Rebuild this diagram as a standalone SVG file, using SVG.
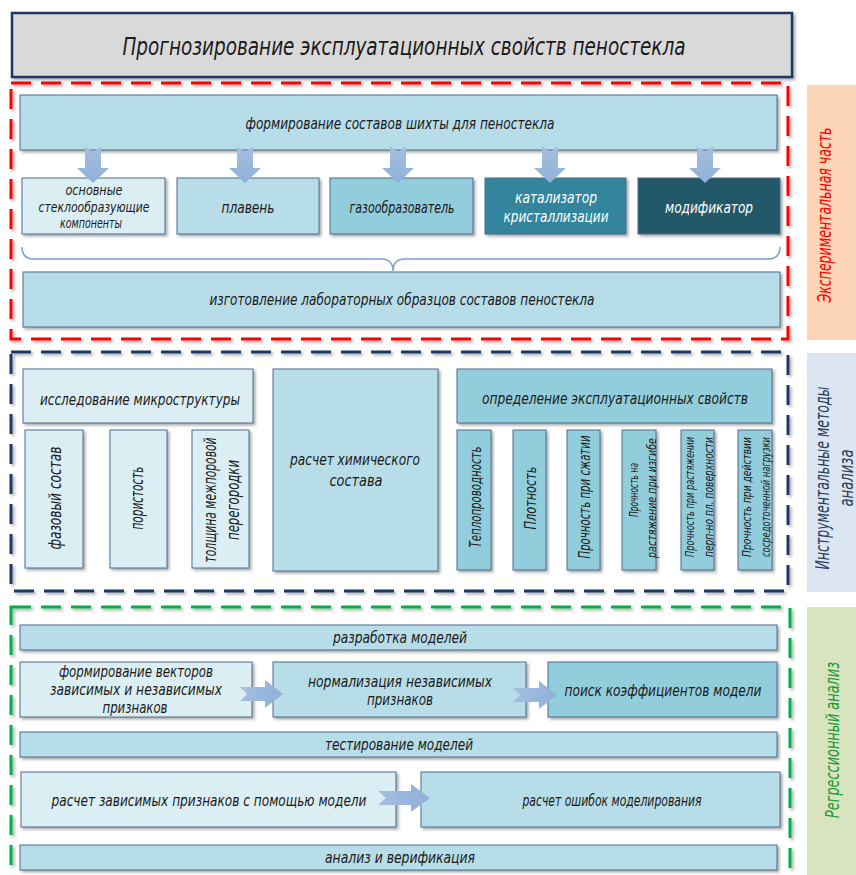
<svg xmlns="http://www.w3.org/2000/svg" width="856" height="875" viewBox="0 0 856 875">
<defs>
<filter id="sh" x="-5%" y="-5%" width="115%" height="130%">
<feDropShadow dx="2" dy="2" stdDeviation="1.5" flood-color="#404040" flood-opacity="0.45"/>
</filter>
<linearGradient id="arr" x1="0" y1="0" x2="0" y2="1">
<stop offset="0" stop-color="#a5bfdf"/><stop offset="1" stop-color="#8fb0d8"/>
</linearGradient>
<linearGradient id="arrh" x1="0" y1="0" x2="1" y2="0">
<stop offset="0" stop-color="#a5bfdf"/><stop offset="1" stop-color="#8fb0d8"/>
</linearGradient>
</defs>
<style>
text{font-family:"Liberation Sans Narrow","DejaVu Sans Condensed","Liberation Sans",Arial,sans-serif;font-style:italic;fill:#1a1a1a;text-anchor:middle}
.b{stroke:#4f6d8f;stroke-width:1;filter:url(#sh)}
.c1{fill:#dbeef4}.c2{fill:#b7dde8}.c3{fill:#92cddc}.c4{fill:#31859c}.c5{fill:#215968}
.w{fill:#ffffff}
.t14{font-size:16px}.t13{font-size:13.5px}.t15{font-size:17px}.t11{font-size:12px}.t12{font-size:13px}
.fr{fill:none;stroke-width:3;stroke-dasharray:20 10;filter:url(#sh)}
.ar{fill:url(#arr)}.arh{fill:url(#arrh)}
</style>

<g id="title">
<rect x="12" y="13" width="780" height="64" fill="#d9d9d9" stroke="#1f3864" stroke-width="2.5" filter="url(#sh)"/>
<text x="404" y="55" font-size="25" textLength="563" lengthAdjust="spacingAndGlyphs">Прогнозирование эксплуатационных свойств пеностекла</text>
</g>

<g id="frames">
<rect class="fr" x="11" y="83" width="777" height="256" stroke="#ff0000"/>
<rect class="fr" x="11" y="352" width="777" height="239" stroke="#1f3864"/>
<rect class="fr" x="11" y="607" width="779" height="280" stroke="#00b050"/>
</g>

<g id="side-exp">
<rect x="807" y="85" width="49" height="255" fill="#fbd5b5"/>
<text transform="translate(825,215) rotate(-90)" y="6" font-size="19" style="fill:#ff0000" textLength="175" lengthAdjust="spacingAndGlyphs">Экспериментальная часть</text>
</g>
<g id="side-instr">
<rect x="807" y="353" width="49" height="239" fill="#dce6f2"/>
<text transform="translate(823,478) rotate(-90)" y="6" font-size="19" style="fill:#2a3d5c" textLength="183" lengthAdjust="spacingAndGlyphs">Инструментальные методы</text>
<text transform="translate(847,478) rotate(-90)" y="6" font-size="19" style="fill:#2a3d5c" textLength="57" lengthAdjust="spacingAndGlyphs">анализа</text>
</g>
<g id="side-regr">
<rect x="807" y="607" width="49" height="268" fill="#d7e4bd"/>
<text transform="translate(833,740) rotate(-90)" y="6" font-size="19" style="fill:#1f9a3a" textLength="156" lengthAdjust="spacingAndGlyphs">Регрессионный анализ</text>
</g>

<g id="n-form">
<rect class="b c2" x="20" y="95" width="757" height="55"/>
<text class="t14" x="400" y="129" textLength="309" lengthAdjust="spacingAndGlyphs">формирование составов шихты для пеностекла</text>
</g>
<g id="n-osn">
<rect class="b c1" x="22" y="178" width="143" height="56"/>
<text class="t13" x="94" y="195" textLength="57" lengthAdjust="spacingAndGlyphs">основные</text>
<text class="t13" x="94" y="211.5" textLength="111" lengthAdjust="spacingAndGlyphs">стеклообразующие</text>
<text class="t13" x="91" y="228" textLength="62" lengthAdjust="spacingAndGlyphs">компоненты</text>
</g>
<g id="n-plav">
<rect class="b c2" x="177" y="178" width="142" height="56"/>
<text class="t14" x="248" y="213" textLength="53" lengthAdjust="spacingAndGlyphs">плавень</text>
</g>
<g id="n-gaz">
<rect class="b c3" x="330" y="178" width="143" height="56"/>
<text class="t14" x="402" y="213" textLength="105" lengthAdjust="spacingAndGlyphs">газообразователь</text>
</g>
<g id="n-kat">
<rect class="b c4" x="485" y="178" width="141" height="56"/>
<text class="t14 w" x="556" y="203" textLength="82" lengthAdjust="spacingAndGlyphs">катализатор</text>
<text class="t14 w" x="556" y="222" textLength="105" lengthAdjust="spacingAndGlyphs">кристаллизации</text>
</g>
<g id="n-mod">
<rect class="b c5" x="638" y="178" width="142" height="56"/>
<text class="t14 w" x="709" y="213" textLength="88" lengthAdjust="spacingAndGlyphs">модификатор</text>
</g>
<g id="n-izg">
<rect class="b c2" x="23" y="272" width="757" height="55"/>
<text class="t14" x="402" y="305" textLength="385" lengthAdjust="spacingAndGlyphs">изготовление лабораторных образцов составов пеностекла</text>
</g>

<g id="n-micro">
<rect class="b c1" x="23" y="369" width="230" height="54"/>
<text class="t14" x="140" y="405" textLength="200" lengthAdjust="spacingAndGlyphs">исследование микроструктуры</text>
</g>
<g id="n-faz">
<rect class="b c1" x="25" y="430" width="58" height="138"/>
<text class="t15" transform="translate(55,498) rotate(-90)" y="6" textLength="103" lengthAdjust="spacingAndGlyphs">фазовый состав</text>
</g>
<g id="n-por">
<rect class="b c1" x="110" y="430" width="57" height="138"/>
<text class="t15" transform="translate(137,498) rotate(-90)" y="6" textLength="63" lengthAdjust="spacingAndGlyphs">пористость</text>
</g>
<g id="n-tol">
<rect class="b c1" x="192" y="430" width="57" height="138"/>
<text class="t15" transform="translate(210,500) rotate(-90)" y="6" textLength="125" lengthAdjust="spacingAndGlyphs">толщина межпоровой</text>
<text class="t15" transform="translate(233,500) rotate(-90)" y="6" textLength="80" lengthAdjust="spacingAndGlyphs">перегородки</text>
</g>
<g id="n-chem">
<rect class="b c2" x="273" y="369" width="165" height="202"/>
<text class="t14" x="355" y="465" textLength="130" lengthAdjust="spacingAndGlyphs">расчет химического</text>
<text class="t14" x="356" y="486" textLength="53" lengthAdjust="spacingAndGlyphs">состава</text>
</g>
<g id="n-opr">
<rect class="b c3" x="457" y="369" width="315" height="54"/>
<text class="t14" x="615" y="404" textLength="266" lengthAdjust="spacingAndGlyphs">определение эксплуатационных свойств</text>
</g>
<g id="n-tep">
<rect class="b c3" x="457" y="430" width="34" height="140"/>
<text class="t14" transform="translate(475,497) rotate(-90)" y="6" textLength="101" lengthAdjust="spacingAndGlyphs">Теплопроводность</text>
</g>
<g id="n-plot">
<rect class="b c3" x="513" y="430" width="33" height="140"/>
<text class="t14" transform="translate(530,498) rotate(-90)" y="6" textLength="63" lengthAdjust="spacingAndGlyphs">Плотность</text>
</g>
<g id="n-szh">
<rect class="b c3" x="567" y="430" width="33" height="140"/>
<text class="t14" transform="translate(584,497) rotate(-90)" y="6" textLength="123" lengthAdjust="spacingAndGlyphs">Прочность при сжатии</text>
</g>
<g id="n-izgib">
<rect class="b c3" x="622" y="430" width="34" height="140"/>
<text class="t12" transform="translate(633,490) rotate(-90)" y="5" textLength="54" lengthAdjust="spacingAndGlyphs">Прочность на</text>
<text class="t12" transform="translate(651,498) rotate(-90)" y="5" textLength="120" lengthAdjust="spacingAndGlyphs">растяжение при изгибе</text>
</g>
<g id="n-rast">
<rect class="b c3" x="681" y="430" width="33" height="140"/>
<text class="t11" transform="translate(690,497) rotate(-90)" y="4" textLength="120" lengthAdjust="spacingAndGlyphs">Прочность при растяжении</text>
<text class="t11" transform="translate(709,497) rotate(-90)" y="4" textLength="120" lengthAdjust="spacingAndGlyphs">перп-но пл. поверхности</text>
</g>
<g id="n-sosr">
<rect class="b c3" x="738" y="430" width="34" height="140"/>
<text class="t11" transform="translate(747,497) rotate(-90)" y="4" textLength="120" lengthAdjust="spacingAndGlyphs">Прочность при действии</text>
<text class="t11" transform="translate(766,497) rotate(-90)" y="4" textLength="120" lengthAdjust="spacingAndGlyphs">сосредоточенной нагрузки</text>
</g>

<g id="n-razr">
<rect class="b c2" x="20" y="625" width="757" height="25"/>
<text class="t14" x="400" y="643" textLength="134" lengthAdjust="spacingAndGlyphs">разработка моделей</text>
</g>
<g id="n-vekt">
<rect class="b c1" x="20" y="662" width="232" height="55"/>
<text class="t14" x="136" y="677" textLength="154" lengthAdjust="spacingAndGlyphs">формирование векторов</text>
<text class="t14" x="136" y="695" textLength="172" lengthAdjust="spacingAndGlyphs">зависимых и независимых</text>
<text class="t14" x="135" y="713" textLength="65" lengthAdjust="spacingAndGlyphs">признаков</text>
</g>
<g id="n-norm">
<rect class="b c2" x="273" y="662" width="253" height="55"/>
<text class="t14" x="400" y="687" textLength="184" lengthAdjust="spacingAndGlyphs">нормализация независимых</text>
<text class="t14" x="400" y="705" textLength="66" lengthAdjust="spacingAndGlyphs">признаков</text>
</g>
<g id="n-poisk">
<rect class="b c3" x="548" y="662" width="229" height="55"/>
<text class="t14" x="663" y="696" textLength="197" lengthAdjust="spacingAndGlyphs">поиск коэффициентов модели</text>
</g>
<g id="n-test">
<rect class="b c2" x="20" y="732" width="757" height="25"/>
<text class="t14" x="399" y="750" textLength="148" lengthAdjust="spacingAndGlyphs">тестирование моделей</text>
</g>
<g id="n-rasch">
<rect class="b c1" x="21" y="772" width="375" height="55"/>
<text class="t14" x="209" y="806" textLength="315" lengthAdjust="spacingAndGlyphs">расчет зависимых признаков с помощью модели</text>
</g>
<g id="n-osh">
<rect class="b c2" x="421" y="772" width="359" height="55"/>
<text class="t14" x="612" y="806" textLength="179" lengthAdjust="spacingAndGlyphs">расчет ошибок моделирования</text>
</g>
<g id="n-anal">
<rect class="b c2" x="20" y="845" width="757" height="25"/>
<text class="t14" x="400" y="863" textLength="150" lengthAdjust="spacingAndGlyphs">анализ и верификация</text>
</g>

<g id="connectors">
<path d="M22,247 Q22,259 34,259 L381,259 Q393,259 393,271 Q393,259 405,259 L768,259 Q780,259 780,247" fill="none" stroke="#7f9fcf" stroke-width="1.5"/>
<g class="ar">
<polygon points="85,146 93,152 101,146 101,168 109,168 93,183 77,168 85,168"/>
<polygon points="237,146 245,152 253,146 253,168 261,168 245,183 229,168 237,168"/>
<polygon points="390,146 398,152 406,146 406,168 414,168 398,183 382,168 390,168"/>
<polygon points="542,146 550,152 558,146 558,168 566,168 550,183 534,168 542,168"/>
<polygon points="697,146 705,152 713,146 713,168 721,168 705,183 689,168 697,168"/>
</g>
<g class="arh">
<polygon points="240,687 247,694 240,701 265,701 265,708 283,694 265,680 265,687"/>
<polygon points="513,688 520,695 513,702 539,702 539,709 557,695 539,681 539,688"/>
<polygon points="378,791 386,798 378,805 411,805 411,812 430,798 411,784 411,791"/>
</g>
</g>
</svg>
